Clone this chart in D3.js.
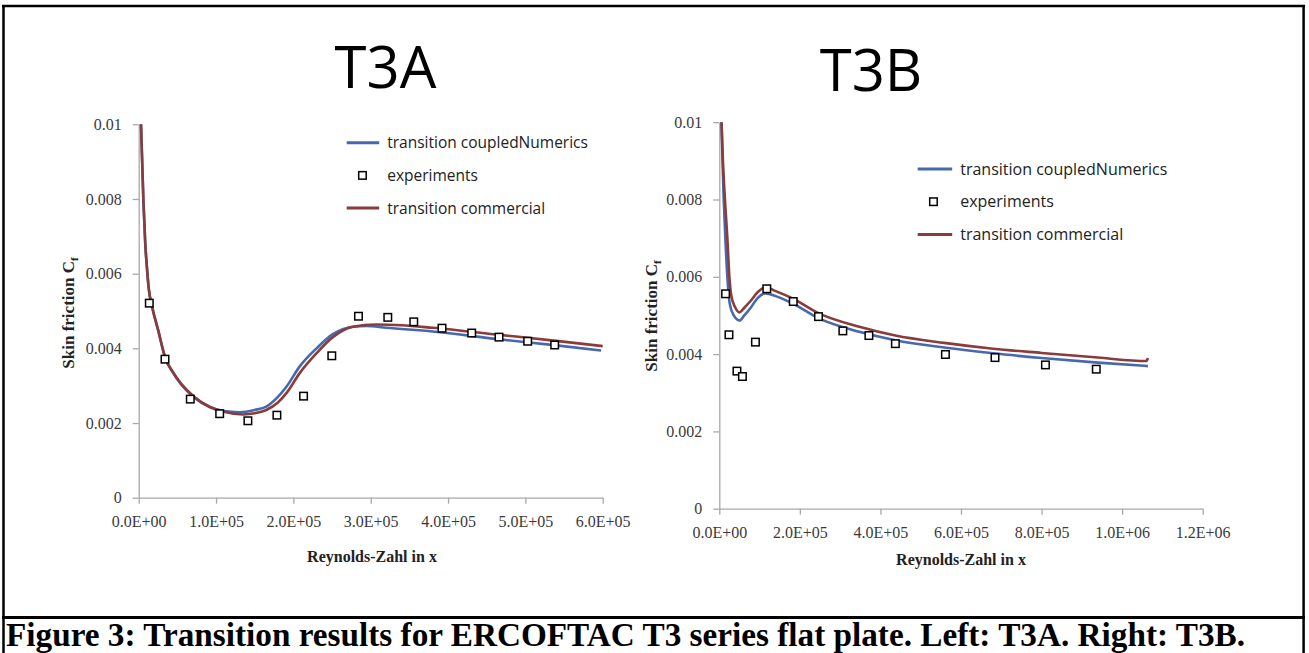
<!DOCTYPE html>
<html>
<head>
<meta charset="utf-8">
<script src="https://cdn.jsdelivr.net/npm/d3@7"></script>
<style>
  body { margin: 0; background: #fff; }
  svg { display: block; }
</style>
</head>
<body>
<svg id="chart" width="1309" height="653"></svg>
<script>
// T3A data (left panel)
var t3aCoupledX = [3000, 6000, 8500, 10500, 13000, 17500, 25000, 35000, 43000, 55000, 72000, 92000, 110000, 130000, 150000, 165000, 180000, 191000, 208000, 230000, 251000, 277000, 295000, 320000, 380000, 467000, 540000, 598000];
var t3aCoupledY = [0.0100, 0.0080, 0.0068, 0.0062, 0.0056, 0.0051, 0.0045, 0.0037, 0.0034, 0.00303, 0.00268, 0.00243, 0.00232, 0.00229, 0.00235, 0.00244, 0.0027, 0.00297, 0.00351, 0.0040, 0.00438, 0.00458, 0.0046, 0.00455, 0.00445, 0.00424, 0.00408, 0.00394];
var t3aCommercialX = [3000, 6000, 8500, 10500, 13000, 17500, 25000, 35000, 43000, 55000, 72000, 92000, 110000, 135000, 150000, 165000, 180000, 191000, 208000, 230000, 251000, 277000, 307000, 340000, 380000, 467000, 540000, 600000];
var t3aCommercialY = [0.0100, 0.0080, 0.0068, 0.0062, 0.0056, 0.0051, 0.0045, 0.0037, 0.0034, 0.00305, 0.0027, 0.00243, 0.0023, 0.00223, 0.00226, 0.00235, 0.00255, 0.0028, 0.00333, 0.00387, 0.0043, 0.00458, 0.00464, 0.00462, 0.00455, 0.00436, 0.0042, 0.00406];
var t3aExpX = [13700, 34000, 66700, 104700, 141200, 178700, 213200, 249700, 284200, 322100, 355700, 392200, 430600, 465900, 503000, 537900];
var t3aExpY = [0.00521, 0.00371, 0.00264, 0.00225, 0.00206, 0.00221, 0.00272, 0.0038, 0.00486, 0.00483, 0.00471, 0.00454, 0.00441, 0.0043, 0.00419, 0.00409];

// T3B data (right panel)
var t3bCoupledX = [5500, 8000, 11000, 15000, 20000, 26000, 36000, 50000, 62000, 78000, 95000, 115000, 140000, 184000, 246000, 350000, 437000, 558000, 680000, 800000, 940000, 1064000];
var t3bCoupledY = [0.0100, 0.0090, 0.0080, 0.0070, 0.0060, 0.0053, 0.0050, 0.00487, 0.0050, 0.0052, 0.00545, 0.00557, 0.0055, 0.0053, 0.00493, 0.00457, 0.00436, 0.00417, 0.00402, 0.0039, 0.00378, 0.00369];
var t3bCommercialX = [5500, 9000, 14000, 20000, 25000, 30000, 40000, 50000, 62000, 78000, 95000, 115000, 140000, 184000, 246000, 350000, 437000, 558000, 680000, 800000, 940000, 1060000, 1064000];
var t3bCommercialY = [0.0100, 0.0090, 0.0080, 0.0070, 0.0060, 0.0055, 0.0052, 0.00508, 0.0052, 0.00538, 0.0056, 0.00573, 0.00563, 0.00543, 0.00506, 0.0047, 0.00448, 0.00429, 0.00414, 0.00403, 0.00391, 0.00382, 0.0039];
var t3bExpX = [15600, 24000, 43800, 57400, 89700, 117900, 183600, 246200, 306700, 371400, 437100, 561300, 684400, 809600, 935800];
var t3bExpY = [0.00556, 0.0045, 0.00356, 0.00342, 0.00431, 0.00569, 0.00536, 0.00497, 0.0046, 0.00448, 0.00427, 0.00399, 0.00391, 0.00372, 0.00361];

var yTicks = [0, 0.002, 0.004, 0.006, 0.008, 0.01];
var yTickLabels = ["0", "0.002", "0.004", "0.006", "0.008", "0.01"];
var t3aXTicks = [0, 100000, 200000, 300000, 400000, 500000, 600000];
var t3bXTicks = [0, 200000, 400000, 600000, 800000, 1000000, 1200000];
var legendLabels = ["transition coupledNumerics", "experiments", "transition commercial"];
var caption = "Figure 3: Transition results for ERCOFTAC T3 series flat plate. Left: T3A. Right: T3B.";

var blue = "#4668ae", red = "#8a3b3b", axisGray = "#a8a8a8";

var svg = d3.select("#chart");
svg.append("rect").attr("width", 1309).attr("height", 653).attr("fill", "#fff");

// frame of the figure cell
var frame = svg.append("g").attr("stroke", "#000").attr("fill", "none");
frame.append("line").attr("x1", 2).attr("x2", 1305).attr("y1", 6).attr("y2", 6).attr("stroke-width", 2.5);
frame.append("line").attr("x1", 3.5).attr("x2", 3.5).attr("y1", 5).attr("y2", 653).attr("stroke-width", 2.5);
frame.append("line").attr("x1", 1303.6).attr("x2", 1303.6).attr("y1", 5).attr("y2", 653).attr("stroke-width", 2.5);
frame.append("line").attr("x1", 2).attr("x2", 1305).attr("y1", 617.5).attr("y2", 617.5).attr("stroke-width", 3);

svg.append("text")
  .attr("x", 6).attr("y", 646)
  .attr("font-family", "Liberation Serif, Times New Roman, serif")
  .attr("font-weight", "bold").attr("font-size", 33)
  .attr("textLength", 1239).attr("lengthAdjust", "spacingAndGlyphs")
  .attr("fill", "#000")
  .text(caption);

var sciFormat = function(v) {
  if (v === 0) return "0.0E+00";
  var e = Math.floor(Math.log10(v) + 1e-9);
  var m = v / Math.pow(10, e);
  return m.toFixed(1) + "E+" + (e < 10 ? "0" + e : e);
};

var zip = function(xs, ys) {
  return xs.map(function(x, i){ return {x: x, y: ys[i]}; });
};

function drawPanel(p) {
  var g = svg.append("g");
  var x = d3.scaleLinear().domain(p.xDomain).range(p.xRange);
  var y = d3.scaleLinear().domain([0, 0.01]).range(p.yRange);

  g.append("text")
    .attr("x", p.titleX).attr("y", p.titleY)
    .attr("text-anchor", "middle")
    .attr("font-family", "Open Sans, sans-serif")
    .attr("font-size", 58).attr("fill", "#000")
    .text(p.title);

  var xAxis = g.append("g")
    .attr("transform", "translate(0," + p.yRange[0] + ")")
    .call(d3.axisBottom(x).tickValues(p.xTicks).tickFormat(sciFormat).tickSize(6).tickSizeOuter(0).tickPadding(12));
  var yAxis = g.append("g")
    .attr("transform", "translate(" + p.xRange[0] + ",0)")
    .call(d3.axisLeft(y).tickValues(yTicks).tickFormat(function(d, i){ return yTickLabels[i]; }).tickSize(6).tickSizeOuter(0).tickPadding(11));
  [xAxis, yAxis].forEach(function(a) {
    a.select(".domain").attr("stroke", axisGray).attr("stroke-width", 1.3);
    a.selectAll(".tick line").attr("stroke", axisGray).attr("stroke-width", 1.3);
    a.selectAll(".tick text")
      .attr("font-family", "Liberation Serif, Times New Roman, serif")
      .attr("font-size", 16).attr("fill", "#3a3a3a");
  });

  g.append("text")
    .attr("x", p.xTitleX).attr("y", p.xTitleY)
    .attr("text-anchor", "middle")
    .attr("font-family", "Liberation Serif, Times New Roman, serif")
    .attr("font-weight", "bold").attr("font-size", 16).attr("fill", "#222")
    .text("Reynolds-Zahl in x");

  var yt = g.append("text")
    .attr("transform", "translate(" + p.yTitleX + "," + p.yTitleY + ") rotate(-90)")
    .attr("text-anchor", "middle")
    .attr("font-family", "Liberation Serif, Times New Roman, serif")
    .attr("font-weight", "bold").attr("font-size", 17).attr("fill", "#222");
  yt.append("tspan").text("Skin friction C");
  yt.append("tspan").attr("font-size", 11).attr("dy", 4).text("f");

  var line = d3.line()
    .x(function(d){ return x(d.x); })
    .y(function(d){ return y(d.y); })
    .curve(d3.curveMonotoneX);

  g.append("path")
    .datum(zip(p.coupledX, p.coupledY))
    .attr("d", line)
    .attr("fill", "none").attr("stroke", blue).attr("stroke-width", 2.6);
  g.append("path")
    .datum(zip(p.commercialX, p.commercialY))
    .attr("d", line)
    .attr("fill", "none").attr("stroke", red).attr("stroke-width", 2.6);

  g.selectAll(".exp")
    .data(zip(p.expX, p.expY))
    .enter().append("rect")
    .attr("class", "exp")
    .attr("x", function(d){ return x(d.x) - 3.75; })
    .attr("y", function(d){ return y(d.y) - 3.75; })
    .attr("width", 7.5).attr("height", 7.5)
    .attr("fill", "#fff").attr("stroke", "#000").attr("stroke-width", 1.5);

  // legend
  var lg = g.append("g").attr("transform", "translate(" + p.legendX + "," + p.legendY + ")");
  legendLabels.forEach(function(label, i) {
    var row = lg.append("g").attr("transform", "translate(0," + (i * p.legendStep) + ")");
    if (i === 1) {
      row.append("rect").attr("x", 12).attr("y", -3.75).attr("width", 7.5).attr("height", 7.5)
        .attr("fill", "#fff").attr("stroke", "#000").attr("stroke-width", 1.5);
    } else {
      row.append("line").attr("x1", 0).attr("x2", p.legendLine).attr("y1", 0).attr("y2", 0)
        .attr("stroke", i === 0 ? blue : red).attr("stroke-width", 3);
    }
    row.append("text")
      .attr("x", p.legendLine + 8).attr("y", 0).attr("dy", "0.35em")
      .attr("font-family", "Open Sans, sans-serif")
      .attr("font-size", p.legendFont).attr("fill", "#222")
      .text(label);
  });
}

drawPanel({
  title: "T3A", titleX: 385.5, titleY: 88,
  xDomain: [0, 600000], xRange: [138.7, 602.7], yRange: [497.7, 124.3],
  xTicks: t3aXTicks,
  xTitleX: 372, xTitleY: 562, yTitleX: 74, yTitleY: 313,
  coupledX: t3aCoupledX, coupledY: t3aCoupledY,
  commercialX: t3aCommercialX, commercialY: t3aCommercialY,
  expX: t3aExpX, expY: t3aExpY,
  legendX: 346.7, legendY: 142.7, legendStep: 32.7, legendLine: 32.5, legendFont: 15.5
});

drawPanel({
  title: "T3B", titleX: 871, titleY: 91,
  xDomain: [0, 1200000], xRange: [719.3, 1202.7], yRange: [508.7, 122.2],
  xTicks: t3bXTicks,
  xTitleX: 961, xTitleY: 565, yTitleX: 657, yTitleY: 316,
  coupledX: t3bCoupledX, coupledY: t3bCoupledY,
  commercialX: t3bCommercialX, commercialY: t3bCommercialY,
  expX: t3bExpX, expY: t3bExpY,
  legendX: 917.7, legendY: 169, legendStep: 32.7, legendLine: 34.5, legendFont: 16
});
</script>
</body>
</html>
